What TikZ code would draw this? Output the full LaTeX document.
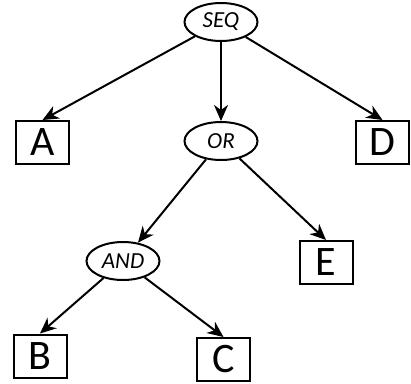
\documentclass[tikz,border=0pt]{standalone}
\usepackage{fontspec}
\setmainfont{Carlito}
\usetikzlibrary{arrows.meta,shapes.geometric}
\begin{document}
\begin{tikzpicture}[x=1pt,y=-1pt,
  box/.style={draw,line width=2pt,minimum width=53pt,minimum height=43pt,inner sep=0pt,font=\fontsize{42}{42}\selectfont},
  op/.style={draw,ellipse,line width=2pt,minimum width=73pt,minimum height=38pt,inner sep=0pt,font=\itshape\fontsize{23}{23}\selectfont},
  arr/.style={line width=2pt,-{Stealth[length=16pt,width=14pt,inset=5pt]}}]
\useasboundingbox (0,0) rectangle (411,383);
\node[op] (seq) at (221,22) {SEQ};
\node[op] (or) at (221,141) {OR};
\node[op] (and) at (123,261) {AND};
\node[box] (a) at (42.5,142.5) {A};
\node[box] (d) at (382.5,142.5) {D};
\node[box] (e) at (326,262.5) {E};
\node[box] (b) at (40,356) {B};
\node[box] (c) at (223.5,359.5) {C};
\draw[arr] (seq) -- (a.north);
\draw[arr] (seq) -- (or);
\draw[arr] (seq) -- (d.north);
\draw[arr] (or) -- (and);
\draw[arr] (or) -- (e.north);
\draw[arr] (and) -- (b.north);
\draw[arr] (and) -- (c.north);
\end{tikzpicture}
\end{document}
